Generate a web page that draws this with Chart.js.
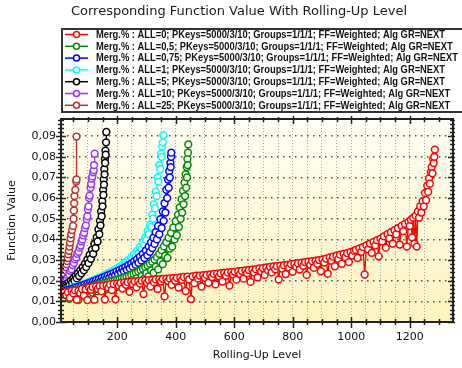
<!DOCTYPE html>
<html>
<head>
<meta charset="utf-8">
<script src="https://cdn.jsdelivr.net/npm/chart.js@4.4.0/dist/chart.umd.min.js"></script>
<style>
  html, body { margin: 0; padding: 0; background: #fff; }
  #wrap { width: 462px; height: 368px; }
</style>
</head>
<body>
<div id="wrap"><canvas id="chart" width="462" height="368"></canvas></div>
<script>
// Corresponding function value vs rolling-up level
// -----------------------------------

var chartTitle = 'Corresponding Function Value With Rolling-Up Level';
var xTitle = 'Rolling-Up Level';
var yTitle = 'Function Value';

var seriesNames = [
    'Merg.% : ALL=0; PKeys=5000/3/10; Groups=1/1/1; FF=Weighted; Alg GR=NEXT',
    'Merg.% : ALL=0,5; PKeys=5000/3/10; Groups=1/1/1; FF=Weighted; Alg GR=NEXT',
    'Merg.% : ALL=0,75; PKeys=5000/3/10; Groups=1/1/1; FF=Weighted; Alg GR=NEXT',
    'Merg.% : ALL=1; PKeys=5000/3/10; Groups=1/1/1; FF=Weighted; Alg GR=NEXT',
    'Merg.% : ALL=5; PKeys=5000/3/10; Groups=1/1/1; FF=Weighted; Alg GR=NEXT',
    'Merg.% : ALL=10; PKeys=5000/3/10; Groups=1/1/1; FF=Weighted; Alg GR=NEXT',
    'Merg.% : ALL=25; PKeys=5000/3/10; Groups=1/1/1; FF=Weighted; Alg GR=NEXT'
];
var seriesColors = ['#ff0000', '#008a00', '#0000ff', '#00ffff', '#000000', '#9933ff', '#b83232'];

var xTickLabels = [200, 400, 600, 800, 1000, 1200];
var yTickLabels = [0, 0.01, 0.02, 0.03, 0.04, 0.05, 0.06, 0.07, 0.08, 0.09];

// [rolling-up level, function value]
var all0 = [
    [8,0.0145],[14,0.0134],[20,0.0145],[26,0.0131],[32,0.0144],[38,0.0118],[44,0.0151],[50,0.0139],[56,0.0153],[62,0.0108],[68,0.0150],[74,0.0141],[80,0.0160],[86,0.0129],[92,0.0158],[98,0.0106],
    [104,0.0167],[110,0.0156],[116,0.0170],[122,0.0108],[128,0.0172],[134,0.0160],[140,0.0174],[146,0.0149],[152,0.0176],[158,0.0109],[164,0.0178],[170,0.0166],[176,0.0182],[182,0.0155],[188,0.0184],[194,0.0110],[200,0.0186],
    [206,0.0176],[212,0.0189],[218,0.0162],[224,0.0192],[230,0.0180],[236,0.0193],[242,0.0146],[248,0.0195],[254,0.0184],[260,0.0197],[266,0.0168],[272,0.0198],[278,0.0186],[284,0.0200],[290,0.0135],[296,0.0201],[302,0.0190],
    [308,0.0203],[314,0.0172],[320,0.0204],[326,0.0193],[332,0.0206],[338,0.0160],[344,0.0207],[350,0.0196],[356,0.0209],[362,0.0124],[368,0.0210],[374,0.0198],[380,0.0211],[386,0.0180],[392,0.0213],[398,0.0200],[404,0.0214],
    [410,0.0167],[416,0.0216],[422,0.0204],[428,0.0218],[434,0.0150],[440,0.0219],[446,0.0206],[452,0.0111],[458,0.0221],[464,0.0188],[470,0.0224],[476,0.0211],[482,0.0225],[488,0.0172],[494,0.0227],[500,0.0214],[506,0.0228],
    [512,0.0190],[518,0.0231],[524,0.0218],[530,0.0233],[536,0.0182],[542,0.0234],[548,0.0221],[554,0.0236],[560,0.0196],[566,0.0238],[572,0.0224],[578,0.0240],[584,0.0176],[590,0.0241],[596,0.0229],[602,0.0243],[608,0.0205],
    [614,0.0246],[620,0.0232],[626,0.0248],[632,0.0210],[638,0.0250],[644,0.0236],[650,0.0252],[656,0.0194],[662,0.0254],[668,0.0240],[674,0.0256],[680,0.0216],[686,0.0259],[692,0.0245],[698,0.0261],[704,0.0228],[710,0.0264],
    [716,0.0250],[722,0.0267],[728,0.0240],[734,0.0269],[740,0.0255],[746,0.0271],[752,0.0206],[758,0.0273],[764,0.0259],[770,0.0275],[776,0.0232],[782,0.0277],[788,0.0263],[794,0.0280],[800,0.0243],[806,0.0282],[812,0.0268],
    [818,0.0285],[824,0.0254],[830,0.0287],[836,0.0272],[842,0.0290],[848,0.0228],[854,0.0292],[860,0.0277],[866,0.0295],[872,0.0262],[878,0.0297],[884,0.0282],[890,0.0300],[896,0.0246],[902,0.0303],[908,0.0288],[914,0.0307],
    [920,0.0234],[926,0.0313],[932,0.0296],[938,0.0317],[944,0.0270],[950,0.0321],[956,0.0305],[962,0.0326],[968,0.0282],[974,0.0330],[980,0.0314],[986,0.0334],[992,0.0290],[998,0.0339],[1004,0.0322],[1010,0.0345],
    [1016,0.0349],[1022,0.0310],[1028,0.0356],[1034,0.0340],[1040,0.0363],[1046,0.0230],[1052,0.0371],[1058,0.0352],[1064,0.0380],[1070,0.0335],[1076,0.0388],[1082,0.0370],[1088,0.0396],[1094,0.0318],[1100,0.0404],
    [1106,0.0390],[1112,0.0415],[1118,0.0360],[1124,0.0425],[1130,0.0405],[1136,0.0435],[1142,0.0380],[1148,0.0445],[1154,0.0425],[1160,0.0455],[1166,0.0375],[1172,0.0465],[1178,0.0440],[1184,0.0475],[1190,0.0365],[1196,0.0485],[1200,0.0465],
    [1204,0.0495],[1208,0.0410],[1212,0.0505],[1216,0.0380],[1220,0.0515],[1224,0.0365],[1228,0.0535],[1232,0.0505],[1236,0.0560],[1240,0.0530],[1244,0.0585],[1248,0.0560],[1252,0.0625],[1256,0.0590],[1260,0.0660],
    [1263,0.0630],[1266,0.0695],[1269,0.0670],[1272,0.0725],[1275,0.0750],[1278,0.0720],[1280,0.0790],[1282,0.0770],[1284,0.0800],[1286,0.0835]
];
var all05 = [
    [8,0.0140],[12,0.0125],[16,0.0143],[20,0.0118],[24,0.0146],[28,0.0132],[32,0.0148],[36,0.0112],[40,0.0150],[44,0.0136],[48,0.0152],[52,0.0124],[56,0.0155],[60,0.0141],[64,0.0157],[68,0.0108],
    [72,0.0160],[76,0.0146],[80,0.0162],[84,0.0130],[88,0.0164],[92,0.0150],[96,0.0166],[100,0.0138],[104,0.0169],[108,0.0155],[112,0.0172],[116,0.0142],[120,0.0175],[124,0.0160],[128,0.0178],[132,0.0148],
    [136,0.0181],[140,0.0165],[144,0.0184],[148,0.0152],[152,0.0187],[156,0.0170],[160,0.0190],[164,0.0158],[168,0.0193],[172,0.0176],[176,0.0196],[180,0.0162],[184,0.0199],[188,0.0180],[192,0.0202],[196,0.0168],
    [200,0.0205],[204,0.0186],[208,0.0208],[212,0.0172],[216,0.0212],[220,0.0192],[224,0.0216],[228,0.0178],[232,0.0220],[236,0.0198],[240,0.0225],[244,0.0183],[248,0.0229],[252,0.0204],[256,0.0234],[260,0.0190],
    [264,0.0239],[268,0.0212],[272,0.0245],[276,0.0200],[280,0.0251],[284,0.0222],[288,0.0258],[292,0.0210],[296,0.0265],[300,0.0236],[304,0.0273],[308,0.0222],[312,0.0282],[316,0.0250],[320,0.0292],[324,0.0238],
    [328,0.0302],[332,0.0268],[336,0.0314],[340,0.0255],[344,0.0330],[348,0.0292],[352,0.0348],[356,0.0280],[360,0.0366],[364,0.0320],[368,0.0386],[372,0.0310],[376,0.0408],[380,0.0355],[384,0.0432],[388,0.0365],
    [392,0.0458],[396,0.0400],[400,0.0488],[404,0.0420],[408,0.0520],[411,0.0460],[414,0.0555],[417,0.0500],[420,0.0595],[422,0.0530],[425,0.0635],[427,0.0570],[430,0.0675],[432,0.0610],[434,0.0715],[436,0.0650],
    [438,0.0750],[439,0.0700],[440,0.0790],[441,0.0760],[442,0.0820],[443,0.0860]
];
var all075 = [
    [8,0.0140],[13,0.0132],[18,0.0148],[23,0.0140],[28,0.0154],[33,0.0146],[38,0.0158],[43,0.0150],[48,0.0162],[53,0.0153],[58,0.0167],[63,0.0158],[68,0.0171],[73,0.0163],[78,0.0176],[83,0.0168],
    [88,0.0181],[93,0.0172],[98,0.0186],[103,0.0178],[108,0.0191],[113,0.0183],[118,0.0197],[123,0.0188],[128,0.0203],[133,0.0193],[138,0.0208],[143,0.0198],[148,0.0214],[153,0.0204],[158,0.0220],[163,0.0210],
    [168,0.0226],[173,0.0215],[178,0.0232],[183,0.0221],[188,0.0238],[193,0.0227],[198,0.0245],[203,0.0233],[208,0.0251],[213,0.0240],[218,0.0258],[223,0.0246],[228,0.0266],[233,0.0253],[238,0.0274],[243,0.0260],
    [248,0.0283],[253,0.0268],[258,0.0293],[263,0.0277],[268,0.0304],[273,0.0287],[278,0.0316],[283,0.0298],[288,0.0330],[293,0.0310],[298,0.0346],[303,0.0323],[308,0.0365],[312,0.0340],[316,0.0385],[320,0.0358],
    [324,0.0408],[328,0.0378],[332,0.0435],[336,0.0400],[340,0.0465],[344,0.0425],[348,0.0498],[352,0.0455],[356,0.0535],[359,0.0490],[362,0.0575],[365,0.0530],[368,0.0640],[371,0.0600],[374,0.0690],[376,0.0650],
    [378,0.0730],[380,0.0700],[382,0.0770],[383,0.0750],[384,0.0800],[385,0.0820]
];
var all1 = [
    [8,0.0145],[13,0.0140],[18,0.0151],[23,0.0146],[28,0.0157],[33,0.0152],[38,0.0162],[43,0.0157],[48,0.0166],[53,0.0161],[58,0.0170],[63,0.0166],[68,0.0175],[73,0.0170],[78,0.0180],[83,0.0175],
    [88,0.0185],[93,0.0180],[98,0.0190],[103,0.0186],[108,0.0196],[113,0.0191],[118,0.0203],[123,0.0197],[128,0.0209],[133,0.0203],[138,0.0215],[143,0.0209],[148,0.0221],[153,0.0216],[158,0.0228],[163,0.0222],
    [168,0.0235],[173,0.0229],[178,0.0242],[183,0.0236],[188,0.0250],[193,0.0243],[198,0.0258],[203,0.0251],[208,0.0267],[213,0.0260],[218,0.0277],[223,0.0270],[228,0.0288],[233,0.0280],[238,0.0300],[243,0.0292],
    [248,0.0313],[253,0.0305],[258,0.0328],[263,0.0318],[268,0.0345],[273,0.0334],[278,0.0364],[283,0.0352],[288,0.0386],[292,0.0372],[296,0.0410],[300,0.0398],[304,0.0440],[308,0.0425],[312,0.0470],[316,0.0460],
    [320,0.0520],[323,0.0500],[326,0.0570],[329,0.0550],[332,0.0630],[335,0.0610],[338,0.0700],[341,0.0680],[344,0.0760],[347,0.0740],[350,0.0815],[352,0.0800],[354,0.0850],[356,0.0870],[358,0.0905]
];
var all5 = [
    [10,0.0160],[14,0.0152],[18,0.0170],[22,0.0162],[26,0.0180],[30,0.0172],[34,0.0190],[38,0.0181],[42,0.0200],[46,0.0190],[50,0.0211],[54,0.0200],[58,0.0223],[62,0.0211],[66,0.0236],[70,0.0223],
    [74,0.0250],[78,0.0236],[82,0.0265],[86,0.0250],[90,0.0282],[94,0.0266],[98,0.0302],[102,0.0285],[106,0.0325],[110,0.0306],[114,0.0350],[118,0.0330],[122,0.0378],[126,0.0358],[130,0.0410],[133,0.0390],
    [136,0.0448],[139,0.0425],[141,0.0490],[143,0.0468],[145,0.0535],[147,0.0512],[149,0.0585],[150,0.0560],[152,0.0640],[153,0.0615],[154,0.0690],[155,0.0665],[156,0.0740],[157,0.0715],[158,0.0790],[159,0.0770],
    [160,0.0830],[161,0.0810],[162,0.0870],[163,0.0920]
];
var all10 = [
    [12,0.0170],[16,0.0180],[20,0.0190],[24,0.0200],[28,0.0212],[32,0.0222],[36,0.0230],[40,0.0248],[44,0.0256],[48,0.0276],[52,0.0286],[56,0.0303],[60,0.0312],[64,0.0330],[68,0.0340],[72,0.0360],
    [75,0.0370],[78,0.0390],[81,0.0400],[84,0.0420],[87,0.0432],[90,0.0455],[93,0.0468],[96,0.0498],[98,0.0512],[100,0.0545],[102,0.0560],[104,0.0600],[106,0.0612],[109,0.0650],[111,0.0668],[113,0.0695],
    [115,0.0705],[118,0.0725],[120,0.0735],[121,0.0760],[123,0.0815]
];
var all25 = [
    [10,0.0165],[12,0.0180],[14,0.0195],[16,0.0210],[18,0.0222],[20,0.0235],[23,0.0250],[25,0.0265],[27,0.0280],[29,0.0295],[31,0.0310],[33,0.0328],[35,0.0345],[37,0.0365],
    [39,0.0385],[41,0.0405],[43,0.0425],[46,0.0445],[49,0.0465],[51,0.0500],[52,0.0540],[53,0.0575],[54,0.0610],[57,0.0640],[60,0.0680],[61,0.0690],[61,0.0898]
];

var seriesData = [all0, all05, all075, all1, all5, all10, all25];

(function(window, document, undefined) {

    var ctx = document.getElementById('chart').getContext('2d');
    var isMult = function(v, step) {
        var r = v / step;
        return Math.abs(r - Math.round(r)) < 1e-6;
    };

    // plot background, frame, ticks, title and boxed legend
    var decor = {
        id: 'decor',
        beforeDatasetsDraw: function(chart) {
            var a = chart.chartArea, c = chart.ctx;
            var g = c.createLinearGradient(0, a.top, 0, a.bottom);
            g.addColorStop(0, '#fffff4');
            g.addColorStop(1, '#fff4c0');
            c.save();
            c.globalCompositeOperation = 'destination-over';
            c.fillStyle = g;
            c.fillRect(a.left, a.top, a.right - a.left, a.bottom - a.top);
            c.restore();
        },
        afterDraw: function(chart) {
            var a = chart.chartArea, c = chart.ctx;
            var xs = chart.scales.x, ys = chart.scales.y;
            c.save();
            c.strokeStyle = '#222';
            c.lineWidth = 2;
            c.strokeRect(a.left, a.top, a.right - a.left, a.bottom - a.top);
            c.lineWidth = 1.5;
            c.beginPath();
            for (var v = 50; v <= 1340; v += 50) {
                var px = Math.round(xs.getPixelForValue(v)) + 0.5;
                var big = isMult(v, 200);
                c.moveTo(px, a.bottom - (big ? 5 : 3));
                c.lineTo(px, a.bottom + (big ? 6 : 3));
                c.moveTo(px, a.top + (big ? 5 : 3));
                c.lineTo(px, a.top - (big ? 3 : 2));
            }
            for (var i = 0; i <= 49; i++) {
                var val = i * 0.002;
                var py = Math.round(ys.getPixelForValue(val)) + 0.5;
                var major = i % 5 === 0;
                c.moveTo(a.left - (major ? 5 : 3), py);
                c.lineTo(a.left + (major ? 5 : 3), py);
                c.moveTo(a.right - (major ? 5 : 3), py);
                c.lineTo(a.right + 2, py);
            }
            c.stroke();

            // title
            c.fillStyle = '#1a1a1a';
            c.font = '12px "DejaVu Sans"';
            c.textBaseline = 'middle';
            var tw = c.measureText(chartTitle).width;
            c.save();
            c.translate(71, 12);
            c.scale(336 / tw, 1);
            c.fillText(chartTitle, 0, 0);
            c.restore();

            // legend
            c.fillStyle = '#ffffff';
            c.fillRect(61, 28, 410, 84);
            c.strokeStyle = '#333';
            c.lineWidth = 2;
            c.strokeRect(62, 29, 410, 83);
            c.font = 'bold 10px "Liberation Sans"';
            var s = 349 / c.measureText(seriesNames[0]).width;
            seriesNames.forEach(function(name, k) {
                var y = 34.5 + k * 11.8;
                c.strokeStyle = seriesColors[k];
                c.lineWidth = 1.5;
                c.beginPath();
                c.moveTo(65, y);
                c.lineTo(88, y);
                c.stroke();
                c.beginPath();
                c.arc(76.5, y, 3, 0, Math.PI * 2);
                c.fillStyle = '#fff';
                c.fill();
                c.stroke();
                c.save();
                c.translate(96, y + 0.5);
                c.scale(s, 1);
                c.fillStyle = '#111';
                c.fillText(name, 0, 0);
                c.restore();
            });
            c.restore();
        }
    };

    var datasets = seriesData.map(function(pairs, k) {
        return {
            label: seriesNames[k],
            data: pairs.map(function(p) { return { x: p[0], y: p[1] }; }),
            showLine: true,
            borderColor: seriesColors[k],
            borderWidth: 1.3,
            pointRadius: 3.4,
            pointBorderWidth: 1.5,
            pointBorderColor: seriesColors[k],
            pointBackgroundColor: '#ffffff'
        };
    });

    new Chart(ctx, {
        type: 'scatter',
        data: { datasets: datasets },
        options: {
            responsive: false,
            animation: false,
            devicePixelRatio: 1,
            layout: { padding: { top: 119, right: 3, left: 0, bottom: 0 } },
            plugins: {
                legend: { display: false },
                title: { display: false },
                tooltip: { enabled: false }
            },
            scales: {
                x: {
                    type: 'linear',
                    min: 8,
                    max: 1348,
                    afterFit: function(scale) { scale.height = 46; },
                    border: { display: false, dash: [1, 2] },
                    grid: {
                        drawTicks: false,
                        lineWidth: 1,
                        color: function(c) {
                            return isMult(c.tick.value, 50) ? '#a8a8a0' : 'rgba(0,0,0,0)';
                        }
                    },
                    ticks: {
                        stepSize: 50,
                        autoSkip: false,
                        maxRotation: 0,
                        padding: 9,
                        color: '#111',
                        font: { family: 'DejaVu Sans', size: 11 },
                        callback: function(v) {
                            return xTickLabels.indexOf(Math.round(v)) >= 0 && isMult(v, 1) ? String(Math.round(v)) : '';
                        }
                    },
                    title: {
                        display: true,
                        text: xTitle,
                        color: '#111',
                        font: { family: 'DejaVu Sans', size: 11 },
                        padding: { top: 0, bottom: 6 }
                    }
                },
                y: {
                    min: 0,
                    max: 0.0983,
                    afterFit: function(scale) { scale.width = 61; },
                    border: { display: false, dash: [1.5, 4.5] },
                    grid: {
                        drawTicks: false,
                        lineWidth: 1.5,
                        color: function(c) {
                            return isMult(c.tick.value, 0.01) && c.tick.value > 0 ? '#505050' : 'rgba(0,0,0,0)';
                        }
                    },
                    ticks: {
                        stepSize: 0.002,
                        autoSkip: false,
                        padding: 5,
                        color: '#111',
                        font: { family: 'DejaVu Sans', size: 11 },
                        callback: function(v) {
                            for (var i = 0; i < yTickLabels.length; i++) {
                                if (Math.abs(v - yTickLabels[i]) < 1e-7) return v.toFixed(2).replace('.', ',');
                            }
                            return '';
                        }
                    },
                    title: {
                        display: true,
                        text: yTitle,
                        color: '#111',
                        font: { family: 'DejaVu Sans', size: 11 },
                        padding: { top: 6, bottom: 0 }
                    }
                }
            }
        },
        plugins: [decor]
    });

})(window, document);
</script>
</body>
</html>
